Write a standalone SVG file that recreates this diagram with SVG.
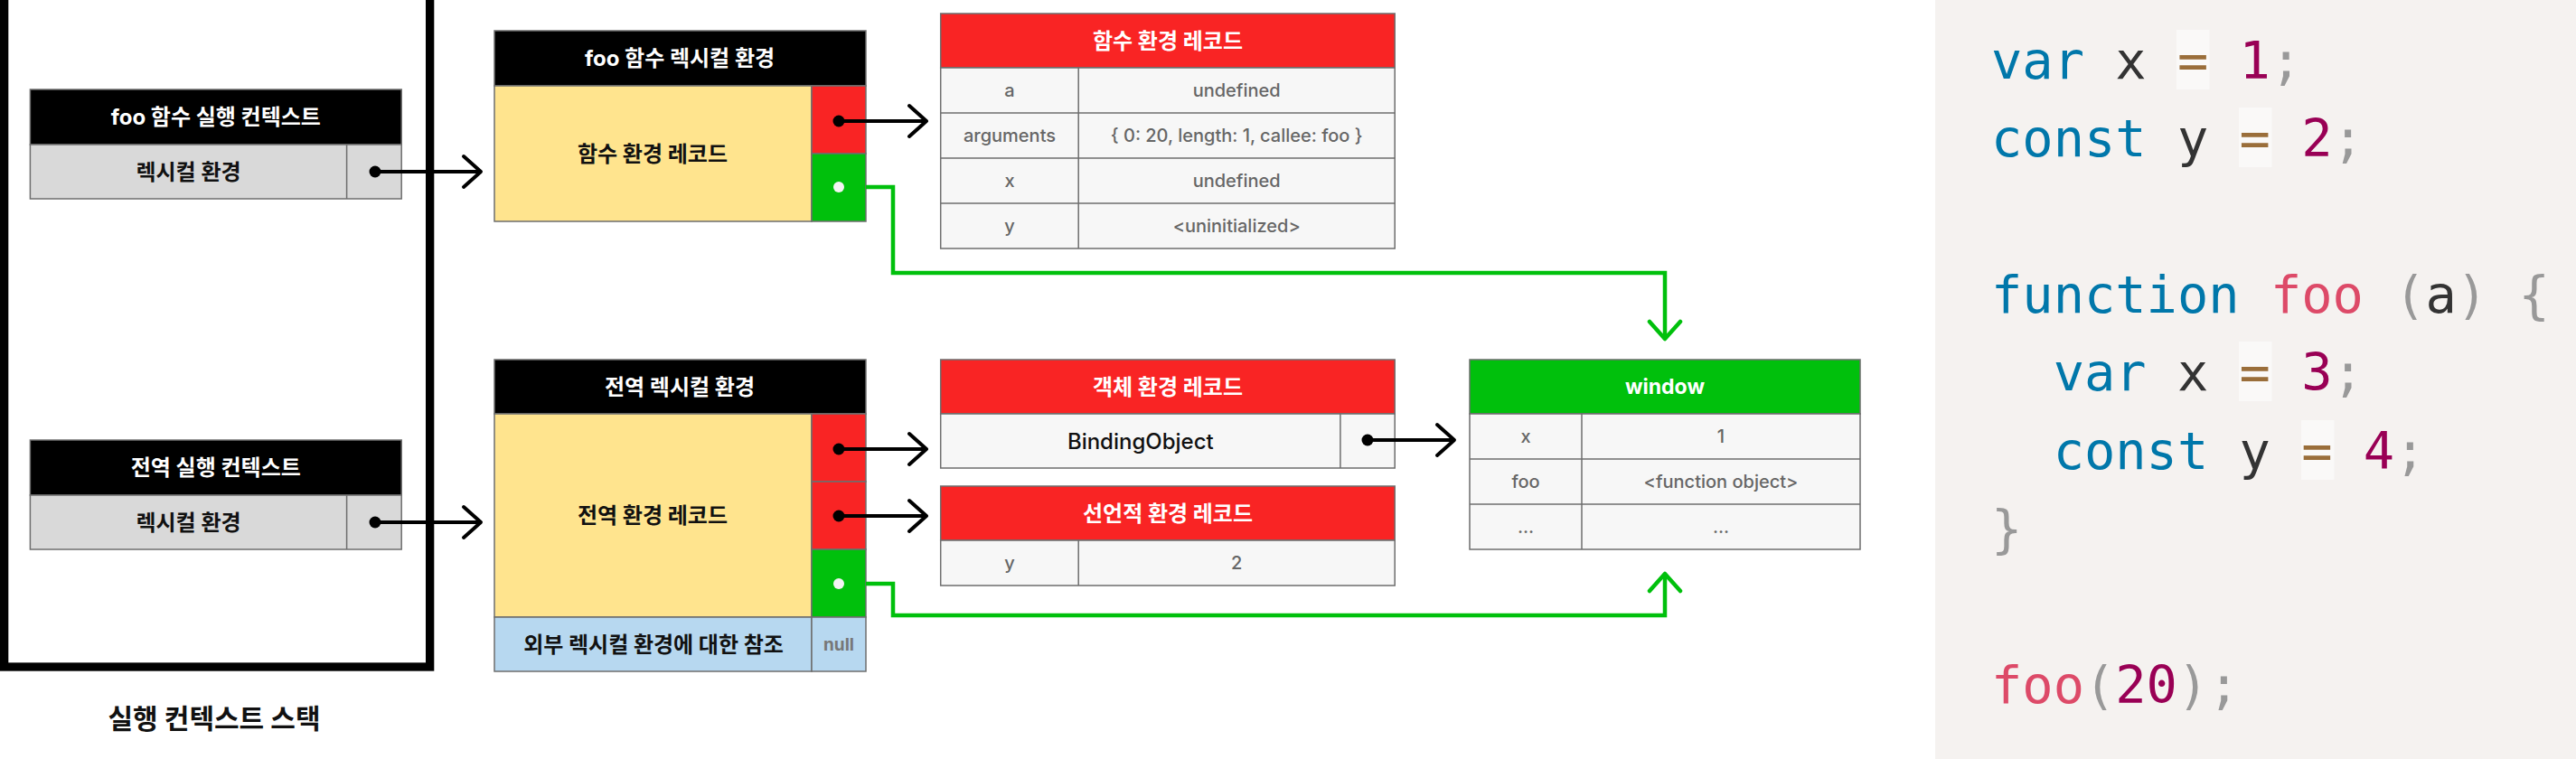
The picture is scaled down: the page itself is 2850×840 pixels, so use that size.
<svg xmlns="http://www.w3.org/2000/svg" width="2850" height="840" viewBox="0 0 2850 840">
<defs>
<style>
.t{font-family:Inter,"Noto Sans CJK KR",sans-serif;text-anchor:middle;dominant-baseline:central}
.hw{font-weight:700;fill:#fff;font-size:24px}
.hb{font-weight:700;fill:#111;font-size:24px}
.cell{font-weight:500;fill:#666;font-size:20px}
.box{stroke:#6e6e6e;stroke-width:1.5}
.blk{fill:#000}
.red{fill:#f92424}
.grn{fill:#00c00c}
.yel{fill:#ffe48e}
.gry{fill:#d9d9d9}
.blu{fill:#b7d8f0}
.row{fill:#f7f7f7}
.ln{stroke:#6e6e6e;stroke-width:1.5;fill:none}
.arr{stroke:#000;stroke-width:4;fill:none}
.garr{stroke:#00c00c;stroke-width:4.5;fill:none}
.code{font-family:"DejaVu Sans Mono",monospace;font-size:57px}
.kw{fill:#0077aa}
.id{fill:#333}
.op{fill:#9a6e3a}
.num{fill:#990055}
.pn{fill:#999}
.fn{fill:#dd4a68}
.opbg{fill:#fff;fill-opacity:0.5}
</style>
<marker id="mb" markerUnits="userSpaceOnUse" markerWidth="26" markerHeight="40" viewBox="0 0 26 40" refX="22" refY="20" orient="auto">
<path d="M3 3 L22 20 L3 37" stroke="#000" stroke-width="4" fill="none" stroke-linecap="round" stroke-linejoin="round"/>
</marker>
<marker id="mg" markerUnits="userSpaceOnUse" markerWidth="26" markerHeight="40" viewBox="0 0 26 40" refX="22" refY="20" orient="auto">
<path d="M3 3 L22 20 L3 37" stroke="#00c00c" stroke-width="4.5" fill="none" stroke-linecap="round" stroke-linejoin="round"/>
</marker>
</defs>
<rect width="2850" height="840" fill="#fff"/>

<g id="stack">
<rect x="4.65" y="-20" width="471" height="758" fill="none" stroke="#000" stroke-width="9.3"/>
<text class="t" x="237" y="795" style="font-weight:700;font-size:30px;fill:#111">실행 컨텍스트 스택</text>
</g>

<g id="foo-context">
<rect class="box blk" x="33.4" y="99" width="410.8" height="61"/>
<rect class="box gry" x="33.4" y="160" width="410.8" height="60"/>
<line class="ln" x1="383.6" y1="160" x2="383.6" y2="220"/>
<text class="t hw" x="238.8" y="129.5">foo 함수 실행 컨텍스트</text>
<text class="t hb" x="208.5" y="190">렉시컬 환경</text>
</g>

<g id="global-context">
<rect class="box blk" x="33.4" y="487" width="410.8" height="61"/>
<rect class="box gry" x="33.4" y="548" width="410.8" height="60"/>
<line class="ln" x1="383.6" y1="548" x2="383.6" y2="608"/>
<text class="t hw" x="238.8" y="517.5">전역 실행 컨텍스트</text>
<text class="t hb" x="208.5" y="578">렉시컬 환경</text>
</g>

<g id="foo-lexenv">
<rect class="box blk" x="547" y="34" width="411" height="61"/>
<rect class="box yel" x="547" y="95" width="351" height="150"/>
<rect class="box red" x="898" y="95" width="60" height="75"/>
<rect class="box grn" x="898" y="170" width="60" height="75"/>
<text class="t hw" x="752" y="64.5">foo 함수 렉시컬 환경</text>
<text class="t hb" x="722" y="170">함수 환경 레코드</text>
</g>

<g id="global-lexenv">
<rect class="box blk" x="547" y="398" width="411" height="60"/>
<rect class="box yel" x="547" y="458" width="351" height="225"/>
<rect class="box red" x="898" y="458" width="60" height="75"/>
<rect class="box red" x="898" y="533" width="60" height="75"/>
<rect class="box grn" x="898" y="608" width="60" height="75"/>
<rect class="box blu" x="547" y="683" width="351" height="60"/>
<rect class="box blu" x="898" y="683" width="60" height="60"/>
<text class="t hw" x="752" y="428">전역 렉시컬 환경</text>
<text class="t hb" x="722" y="570">전역 환경 레코드</text>
<text class="t hb" x="723" y="713">외부 렉시컬 환경에 대한 참조</text>
<text class="t" x="928" y="713" style="font-weight:700;font-size:19px;fill:#777">null</text>
</g>

<g id="function-env-record">
<rect class="box red" x="1040.7" y="15" width="502.5" height="60"/>
<rect class="box row" x="1040.7" y="75" width="502.5" height="200"/>
<line class="ln" x1="1040.7" y1="125" x2="1543.2" y2="125"/>
<line class="ln" x1="1040.7" y1="175" x2="1543.2" y2="175"/>
<line class="ln" x1="1040.7" y1="225" x2="1543.2" y2="225"/>
<line class="ln" x1="1193.2" y1="75" x2="1193.2" y2="275"/>
<text class="t hw" x="1292" y="45">함수 환경 레코드</text>
<text class="t cell" x="1117" y="100">a</text>
<text class="t cell" x="1368.2" y="100">undefined</text>
<text class="t cell" x="1117" y="150">arguments</text>
<text class="t cell" x="1368.2" y="150">{ 0: 20, length: 1, callee: foo }</text>
<text class="t cell" x="1117" y="200">x</text>
<text class="t cell" x="1368.2" y="200">undefined</text>
<text class="t cell" x="1117" y="250">y</text>
<text class="t cell" x="1368.2" y="250">&lt;uninitialized&gt;</text>
</g>

<g id="object-env-record">
<rect class="box red" x="1040.7" y="398" width="502.5" height="60"/>
<rect class="box row" x="1040.7" y="458" width="502.5" height="60"/>
<line class="ln" x1="1482.9" y1="458" x2="1482.9" y2="518"/>
<text class="t hw" x="1292" y="428">객체 환경 레코드</text>
<text class="t" x="1261.8" y="488" style="font-weight:500;font-size:24px;fill:#111">BindingObject</text>
</g>

<g id="declarative-env-record">
<rect class="box red" x="1040.7" y="538" width="502.5" height="60"/>
<rect class="box row" x="1040.7" y="598" width="502.5" height="50"/>
<line class="ln" x1="1193.2" y1="598" x2="1193.2" y2="648"/>
<text class="t hw" x="1292" y="568">선언적 환경 레코드</text>
<text class="t cell" x="1117" y="623">y</text>
<text class="t cell" x="1368.2" y="623">2</text>
</g>

<g id="window">
<rect class="box grn" x="1626" y="398" width="432" height="60"/>
<rect class="box row" x="1626" y="458" width="432" height="150"/>
<line class="ln" x1="1626" y1="508" x2="2058" y2="508"/>
<line class="ln" x1="1626" y1="558" x2="2058" y2="558"/>
<line class="ln" x1="1750" y1="458" x2="1750" y2="608"/>
<text class="t hw" x="1842" y="428" style="font-size:23px">window</text>
<text class="t cell" x="1688" y="483">x</text>
<text class="t cell" x="1904" y="483">1</text>
<text class="t cell" x="1688" y="533">foo</text>
<text class="t cell" x="1904" y="533">&lt;function object&gt;</text>
<text class="t cell" x="1688" y="583">...</text>
<text class="t cell" x="1904" y="583">...</text>
</g>

<g id="connectors">
<path class="arr" d="M415 190 H532" marker-end="url(#mb)"/>
<path class="arr" d="M415 578 H532" marker-end="url(#mb)"/>
<path class="arr" d="M928 134 H1025" marker-end="url(#mb)"/>
<path class="arr" d="M928 497 H1025" marker-end="url(#mb)"/>
<path class="arr" d="M928 571 H1025" marker-end="url(#mb)"/>
<path class="arr" d="M1513 487 H1609" marker-end="url(#mb)"/>
<circle cx="415" cy="190" r="6.5" fill="#000"/>
<circle cx="415" cy="578" r="6.5" fill="#000"/>
<circle cx="928" cy="134" r="6.5" fill="#000"/>
<circle cx="928" cy="497" r="6.5" fill="#000"/>
<circle cx="928" cy="571" r="6.5" fill="#000"/>
<circle cx="1513" cy="487" r="6.5" fill="#000"/>
<path class="garr" d="M958 207 H988 V302 H1842 V375" marker-end="url(#mg)"/>
<path class="garr" d="M958 646 H988 V681 H1842 V635" marker-end="url(#mg)"/>
<circle cx="928" cy="207" r="6" fill="#f4f4f4"/>
<circle cx="928" cy="646" r="6" fill="#f4f4f4"/>
</g>

<g id="code">
<rect x="2141" y="0" width="709" height="840" fill="#f5f2f0"/>
<rect class="opbg" x="2408" y="33" width="36.5" height="66"/>
<rect class="opbg" x="2477" y="119" width="36.5" height="66"/>
<rect class="opbg" x="2477" y="378" width="36.5" height="66"/>
<rect class="opbg" x="2546" y="465" width="36.5" height="66"/>
<text class="code" x="2203" y="87" xml:space="preserve"><tspan class="kw">var</tspan><tspan class="id"> x </tspan><tspan class="op">=</tspan><tspan class="id"> </tspan><tspan class="num">1</tspan><tspan class="pn">;</tspan></text>
<text class="code" x="2203" y="173" xml:space="preserve"><tspan class="kw">const</tspan><tspan class="id"> y </tspan><tspan class="op">=</tspan><tspan class="id"> </tspan><tspan class="num">2</tspan><tspan class="pn">;</tspan></text>
<text class="code" x="2203" y="346" xml:space="preserve"><tspan class="kw">function</tspan><tspan class="id"> </tspan><tspan class="fn">foo</tspan><tspan class="id"> </tspan><tspan class="pn">(</tspan><tspan class="id">a</tspan><tspan class="pn">)</tspan><tspan class="id"> </tspan><tspan class="pn">{</tspan></text>
<text class="code" x="2203" y="432" xml:space="preserve"><tspan class="id">  </tspan><tspan class="kw">var</tspan><tspan class="id"> x </tspan><tspan class="op">=</tspan><tspan class="id"> </tspan><tspan class="num">3</tspan><tspan class="pn">;</tspan></text>
<text class="code" x="2203" y="519" xml:space="preserve"><tspan class="id">  </tspan><tspan class="kw">const</tspan><tspan class="id"> y </tspan><tspan class="op">=</tspan><tspan class="id"> </tspan><tspan class="num">4</tspan><tspan class="pn">;</tspan></text>
<text class="code" x="2203" y="605" xml:space="preserve"><tspan class="pn">}</tspan></text>
<text class="code" x="2203" y="778" xml:space="preserve"><tspan class="fn">foo</tspan><tspan class="pn">(</tspan><tspan class="num">20</tspan><tspan class="pn">)</tspan><tspan class="pn">;</tspan></text>
</g>
</svg>
